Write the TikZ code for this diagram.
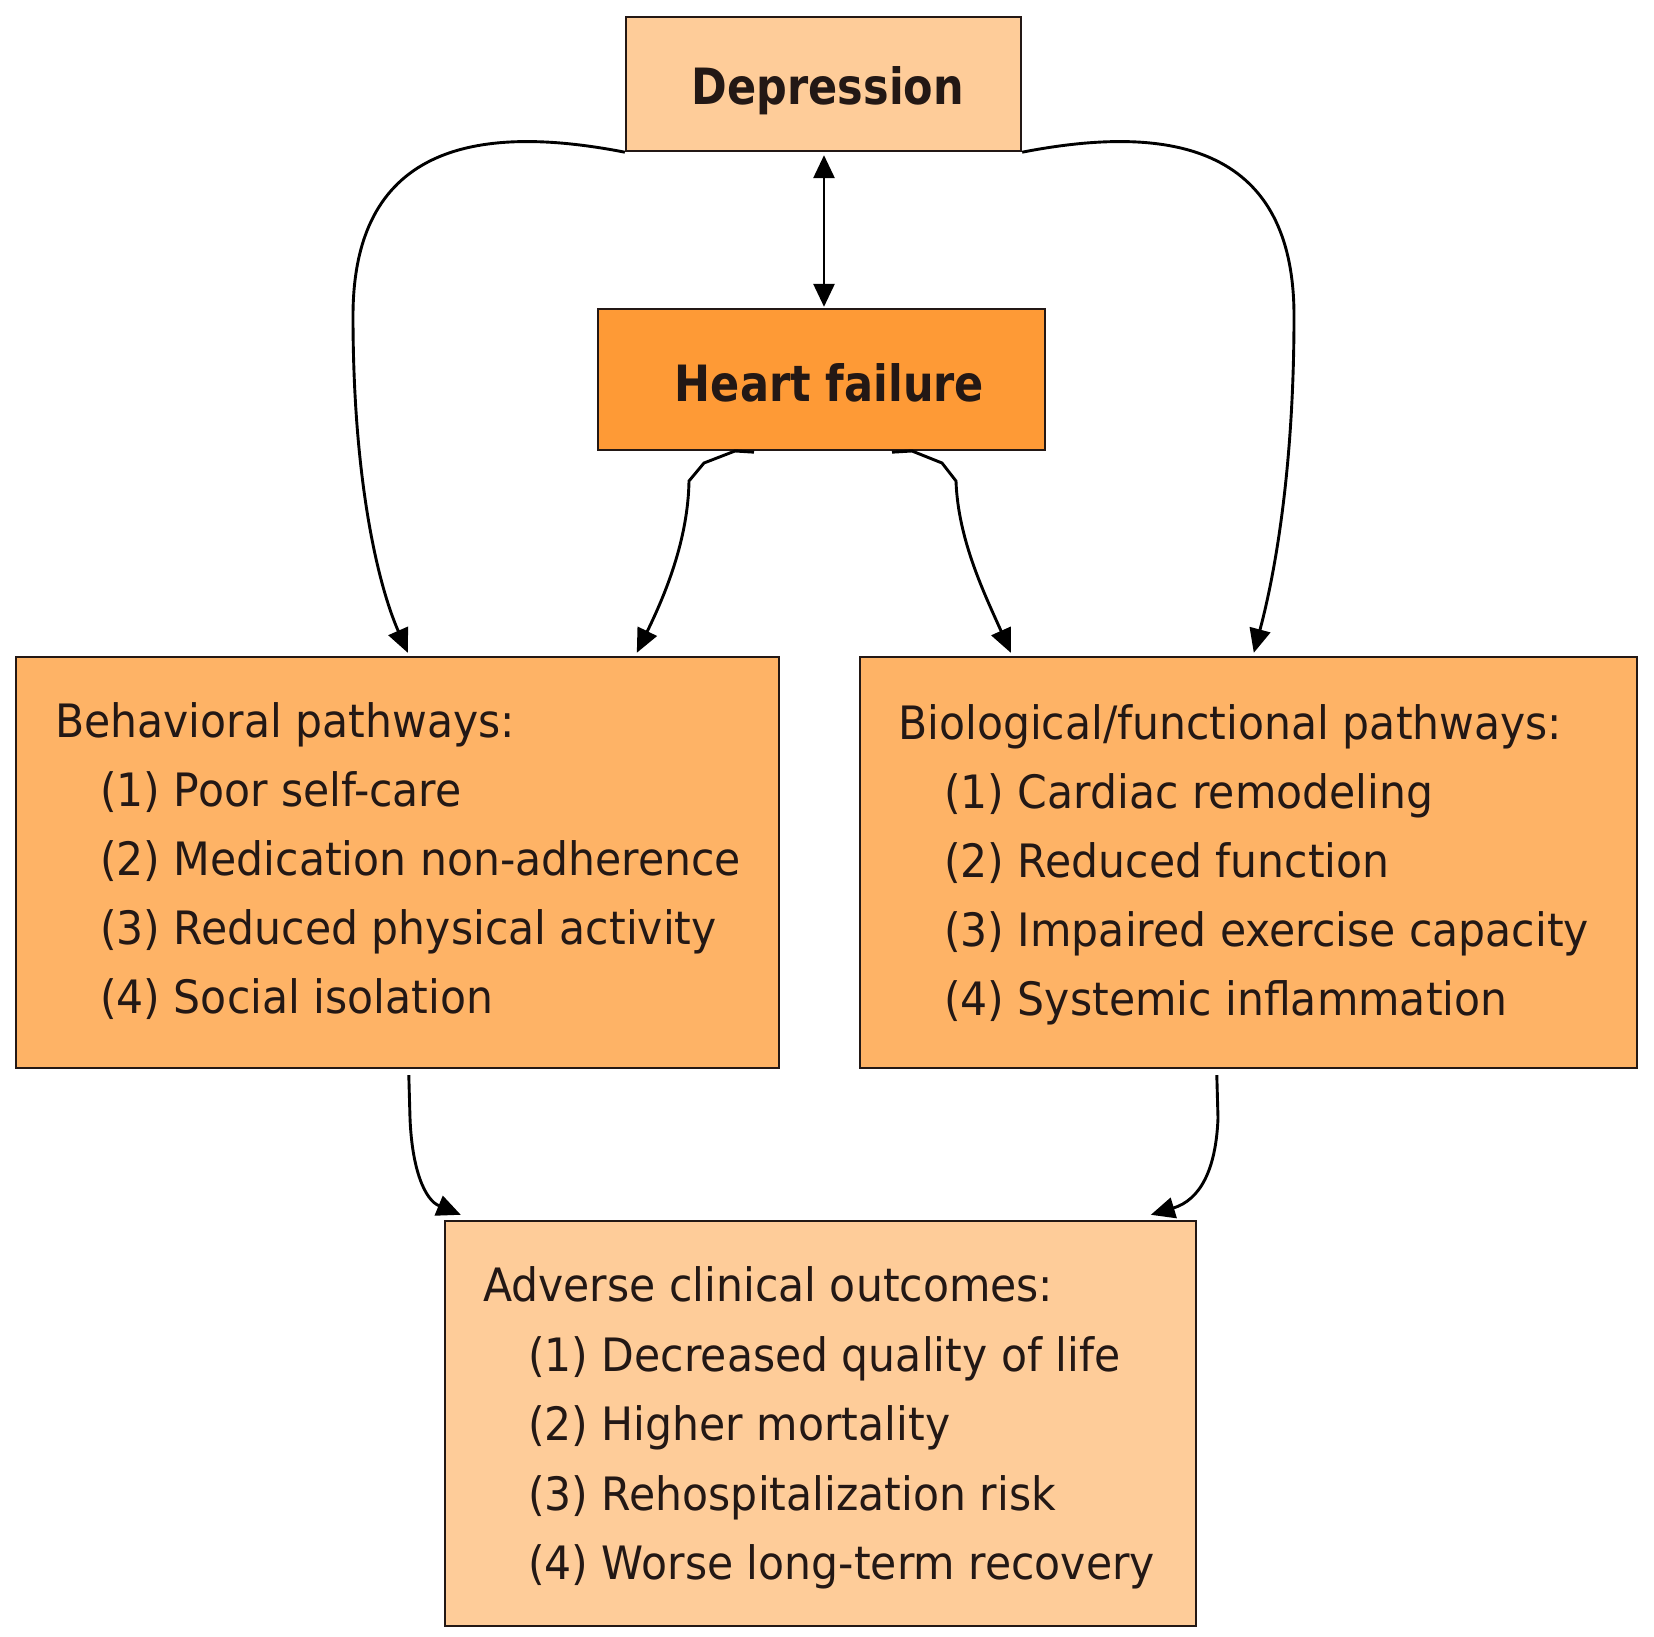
\documentclass[tikz,border=0pt]{standalone}
\usepackage{fontspec}
\setmainfont{DejaVu Sans}
\newfontfamily\bodyfont[FakeStretch=0.925]{DejaVu Sans}
\newfontfamily\headfont[FakeStretch=0.86]{DejaVu Sans}
\usetikzlibrary{arrows.meta,calc}
\definecolor{lightpeach}{HTML}{FECC99}
\definecolor{hforange}{HTML}{FE9A36}
\definecolor{midorange}{HTML}{FEB366}
\definecolor{inkdark}{HTML}{231815}
\tikzset{
  box/.style={draw=inkdark, line width=2.4pt, rectangle, inner sep=0pt},
  headtxt/.style={anchor=base, text=inkdark, font=\headfont\bfseries\fontsize{50}{60}\selectfont, inner sep=0pt},
  bodytxt/.style={anchor=base west, text=inkdark, font=\bodyfont\fontsize{46}{55}\selectfont, inner sep=0pt},
  conn/.style={line width=2.9pt, -{Triangle[length=24pt,width=21pt]}},
  dconn/.style={line width=2.9pt, {Triangle[length=23pt,width=21pt]}-{Triangle[length=23pt,width=21pt]}}
}
\begin{document}
\begin{tikzpicture}[x=1pt,y=-1pt]
\useasboundingbox[fill=white] (0,0) rectangle (1654,1637);

% boxes
\node[box, fill=lightpeach, minimum width=395, minimum height=134] (dep) at (823.5,84) {};
\node[box, fill=hforange, minimum width=447, minimum height=141] (hf) at (821.5,379.5) {};
\node[box, fill=midorange, minimum width=763, minimum height=411] (beh) at (397.5,862.5) {};
\node[box, fill=midorange, minimum width=777, minimum height=411] (bio) at (1248.5,862.5) {};
\node[box, fill=lightpeach, minimum width=751, minimum height=405] (adv) at (820.5,1423.5) {};

% titles
\node[headtxt] (deptxt) at (828,105) {Depression};
\node[headtxt] (hftxt) at (829.5,401) {Heart failure};

% behavioral
\node[bodytxt] (b0) at (55,737) {Behavioral pathways:};
\node[bodytxt] (b1) at (100,806) {(1) Poor self-care};
\node[bodytxt] (b2) at (100,875) {(2) Medication non-adherence};
\node[bodytxt] (b3) at (100,944) {(3) Reduced physical activity};
\node[bodytxt] (b4) at (100,1013) {(4) Social isolation};

% biological
\node[bodytxt] (g0) at (898,739) {Biological/functional pathways:};
\node[bodytxt] (g1) at (944,808) {(1) Cardiac remodeling};
\node[bodytxt] (g2) at (944,877) {(2) Reduced function};
\node[bodytxt] (g3) at (944,946) {(3) Impaired exercise capacity};
\node[bodytxt] (g4) at (944,1015) {(4) Systemic inflammation};

% adverse
\node[bodytxt] (a0) at (483,1301) {Adverse clinical outcomes:};
\node[bodytxt] (a1) at (528,1371) {(1) Decreased quality of life};
\node[bodytxt] (a2) at (528,1440) {(2) Higher mortality};
\node[bodytxt] (a3) at (528,1510) {(3) Rehospitalization risk};
\node[bodytxt] (a4) at (528,1579) {(4) Worse long-term recovery};

% connectors
\draw[dconn] ($(dep.south)+(0.5,3)$) -- ($(hf.north)+(2.5,-1)$);

\draw[conn] (dep.south west) .. controls (470,122) and (353,150) .. (353,316)
  .. controls (353,480) and (378,585) .. ($(beh.north west)+(393,-3)$);
\draw[conn] (dep.south east) .. controls (1177,122) and (1294,150) .. (1294,316)
  .. controls (1294,480) and (1272,585) .. ($(bio.north west)+(395,-3)$);

\draw[conn] ($(hf.south)+(-67.5,1)$) -- (735,451) -- (704,463) -- (689,481)
  .. controls (688,540) and (665,595) .. ($(beh.north west)+(622,-3)$);
\draw[conn] ($(hf.south)+(70.5,1)$) -- (912,451) -- (942,463) -- (956,481)
  .. controls (958,540) and (985,595) .. ($(bio.north west)+(152,-3)$);

\draw[conn] ($(beh.south west)+(394,6)$) -- (410,1118)
  .. controls (412,1170) and (425,1200) .. ($(adv.north west)+(17,-5)$);
\draw[conn] ($(bio.south west)+(358,6)$) -- (1218,1118)
  .. controls (1216,1170) and (1200,1200) .. ($(adv.north west)+(707,-5)$);
\end{tikzpicture}
\end{document}
